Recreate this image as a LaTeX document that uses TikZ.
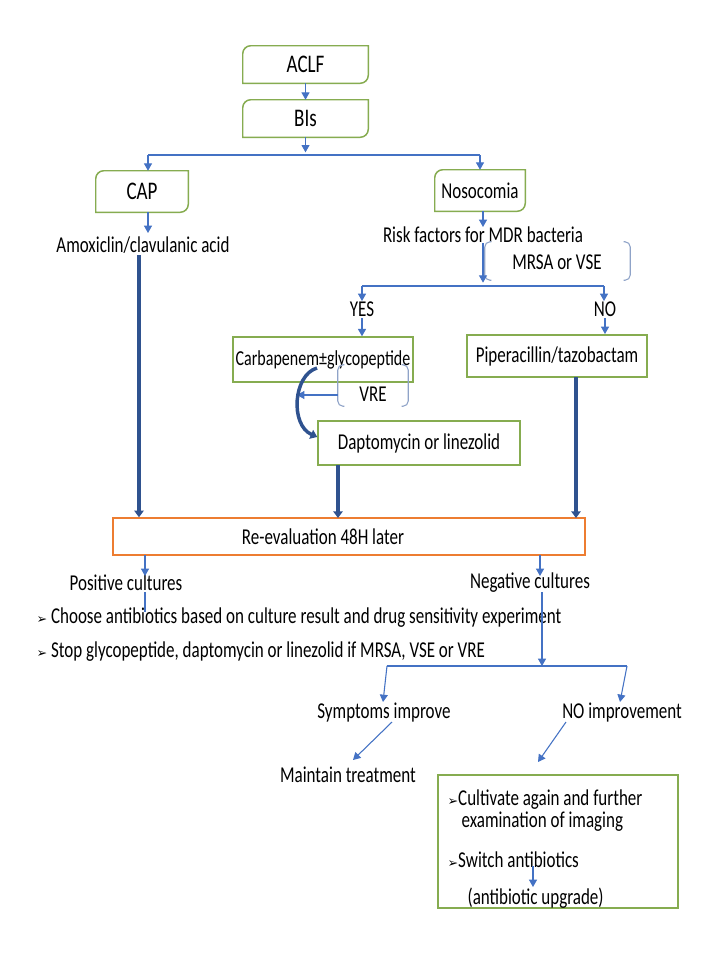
\documentclass[tikz,border=0pt]{standalone}
\usepackage{fontspec}
\setmainfont[FakeStretch=0.75]{Carlito}
\newfontfamily\symf{DejaVu Sans}
\usetikzlibrary{arrows.meta,calc}
\definecolor{gbord}{RGB}{134,172,80}
\definecolor{tblue}{RGB}{68,114,196}
\definecolor{kblue}{RGB}{47,82,143}
\definecolor{obord}{RGB}{237,125,49}
\definecolor{bcol}{RGB}{143,163,200}
\newcommand\rdbox[1]{\draw[gb] (#1.south west) -- ([yshift=-6pt]#1.north west) arc[start angle=180,end angle=90,radius=6pt] -- (#1.north east) -- ([yshift=6pt]#1.south east) arc[start angle=0,end angle=-90,radius=6pt] -- cycle;}
\newcommand\brkpair[1]{\draw[brk] ([xshift=5pt]#1.north west) -- (#1.north west) -- (#1.south west) -- ([xshift=5pt]#1.south west); \draw[brk] ([xshift=-5pt]#1.north east) -- (#1.north east) -- (#1.south east) -- ([xshift=-5pt]#1.south east);}
\newcommand\bul{{\symf\fontsize{9.5}{10}\selectfont ➢}}
\begin{document}
\begin{tikzpicture}[x=0.75pt,y=-0.75pt,
  font=\fontsize{17}{19}\selectfont,
  sz/.style 2 args={minimum width=#1*0.75pt, minimum height=#2*0.75pt, inner sep=0pt},
  gb/.style={draw=gbord, line width=1.1pt},
  ob/.style={draw=obord, line width=1.1pt},
  txt/.style={inner sep=1pt},
  big/.style={font=\fontsize{19}{21}\selectfont},
  arr/.style={draw=tblue, line width=0.8pt, -{Triangle[width=6pt,length=5.5pt]}},
  ln/.style={draw=tblue, line width=0.8pt},
  tarr/.style={draw=kblue, line width=2.6pt, -{Triangle[width=7pt,length=5pt]}},
  brk/.style={draw=bcol, line width=0.8pt, rounded corners=4pt}]
\useasboundingbox (0,0) rectangle (720,960);
\fill[white] (0,0) rectangle (720,960);

% boxes
\node[sz={125}{37}, big] (aclf) at (305.5,64.5) {ACLF};
\node[sz={125}{37}, big] (bis) at (305.5,118.5) {BIs};
\node[sz={92}{41}, big] (cap) at (142,191.5) {CAP};
\node[sz={90}{41}] (noso) at (480,190.5) {Nosocomia};
\rdbox{aclf}\rdbox{bis}\rdbox{cap}\rdbox{noso}

\node[txt] (amox) at (143,245) {Amoxiclin/clavulanic acid};
\node[txt] (risk) at (483,235) {Risk factors for MDR bacteria};
\node[sz={145}{38}] (mrsa) at (557.5,261) {};
\brkpair{mrsa}
\node[txt] (mrsat) at (557,262) {MRSA or VSE};

\node[txt] (yes) at (362,309) {YES};
\node[txt] (no) at (605,309) {NO};

\node[gb, sz={180}{45}, font=\fontsize{16}{18}\selectfont] (carb) at (323,359.5) {Carbapenem±glycopeptide};
\node[sz={70}{41}] (vre) at (373,385.5) {};
\brkpair{vre}
\node[txt] (vret) at (373,394) {VRE};
\node[gb, sz={180}{42}] (pip) at (557,356) {Piperacillin/tazobactam};
\node[gb, sz={202}{44}] (dapt) at (419,443) {Daptomycin or linezolid};

\node[ob, sz={472}{37}] (reev) at (349,536.5) {};
\node[txt] (reevt) at (323,537) {Re-evaluation 48H later};

\node[txt] (pos) at (126,583) {Positive cultures};
\node[txt] (neg) at (530,583) {Negative cultures};
\node[txt, anchor=west] (b1) at (35,618) {\bul\ Choose antibiotics based on culture result and drug sensitivity experiment};
\node[txt, anchor=west] (b2) at (35,652) {\bul\ Stop glycopeptide, daptomycin or linezolid if MRSA, VSE or VRE};

\node[txt] (symp) at (384,713) {Symptoms improve};
\node[txt] (noimp) at (622,713) {NO improvement};
\node[txt] (maint) at (348,775) {Maintain treatment};

\node[gb, sz={240}{133}] (fin) at (558,841.5) {};
\node[txt, anchor=west] (f1) at (446,800) {\bul Cultivate again and further};
\node[txt, anchor=west] (f2) at (460,822) {examination of imaging};
\node[txt, anchor=west] (f3) at (446,860) {\bul Switch antibiotics};
\node[txt, anchor=west] (f4) at (466,898) {(antibiotic upgrade)};

% coordinates
\coordinate (hl) at (148,155);
\coordinate (hr) at (480,155);
\coordinate (hm) at (305.5,155);
\coordinate (nx) at (483,284);
\coordinate (yl) at (362,286);
\coordinate (yr) at (604,286);
\coordinate (vtip) at (297,395);
\coordinate (cs) at (317,368);
\coordinate (ax) at (139,255);
\coordinate (ngl) at (542,666);
\coordinate (il) at (387,666);
\coordinate (ir) at (627,666);

% thin connectors
\draw[arr] (aclf.south) -- (bis.north);
\draw[arr] (bis.south) -- ([yshift=2pt]hm);
\draw[ln] (hl) -- (hr);
\draw[arr] (hl) -- (hl |- cap.north);
\draw[arr] (hr) -- (hr |- noso.north);
\draw[arr] (cap.south -| hl) -- (148,233);
\draw[arr] (noso.south -| nx) -- (483,227);
\draw[arr] (483,243) -- ([yshift=1pt]nx);
\draw[ln] (yl) -- (yr);
\draw[arr] (yl) -- (362,301);
\draw[arr] (yr) -- (604,301);
\draw[arr] (362,318) -- (carb.north -| yl);
\draw[arr] (605,318) -- (605,334);
\draw[arr] (vre.west |- vtip) -- (vtip);

% thick connectors
\draw[tarr] (cs) .. controls (293,375) and (290,425) .. ([yshift=4.5pt]dapt.west);
\draw[tarr] (ax) -- (ax |- reev.north);
\draw[tarr] (338,465) -- (338,518);
\draw[tarr] (576,377) -- (576,518);

% lower part
\draw[arr] (145,555) -- (145,576);
\draw[arr] (540,555) -- (540,576);
\draw[ln] (145,592) -- (145,612);
\draw[arr] (542,592) -- (ngl);
\draw[ln] (il) -- (ir);
\draw[arr] (il) -- (383,702);
\draw[arr] (ir) -- (620,702);
\draw[arr] (392,722) -- (353,760);
\draw[arr] (566,722) -- (538,762);
\draw[arr] (533,866) -- (533,887);
\end{tikzpicture}
\end{document}
